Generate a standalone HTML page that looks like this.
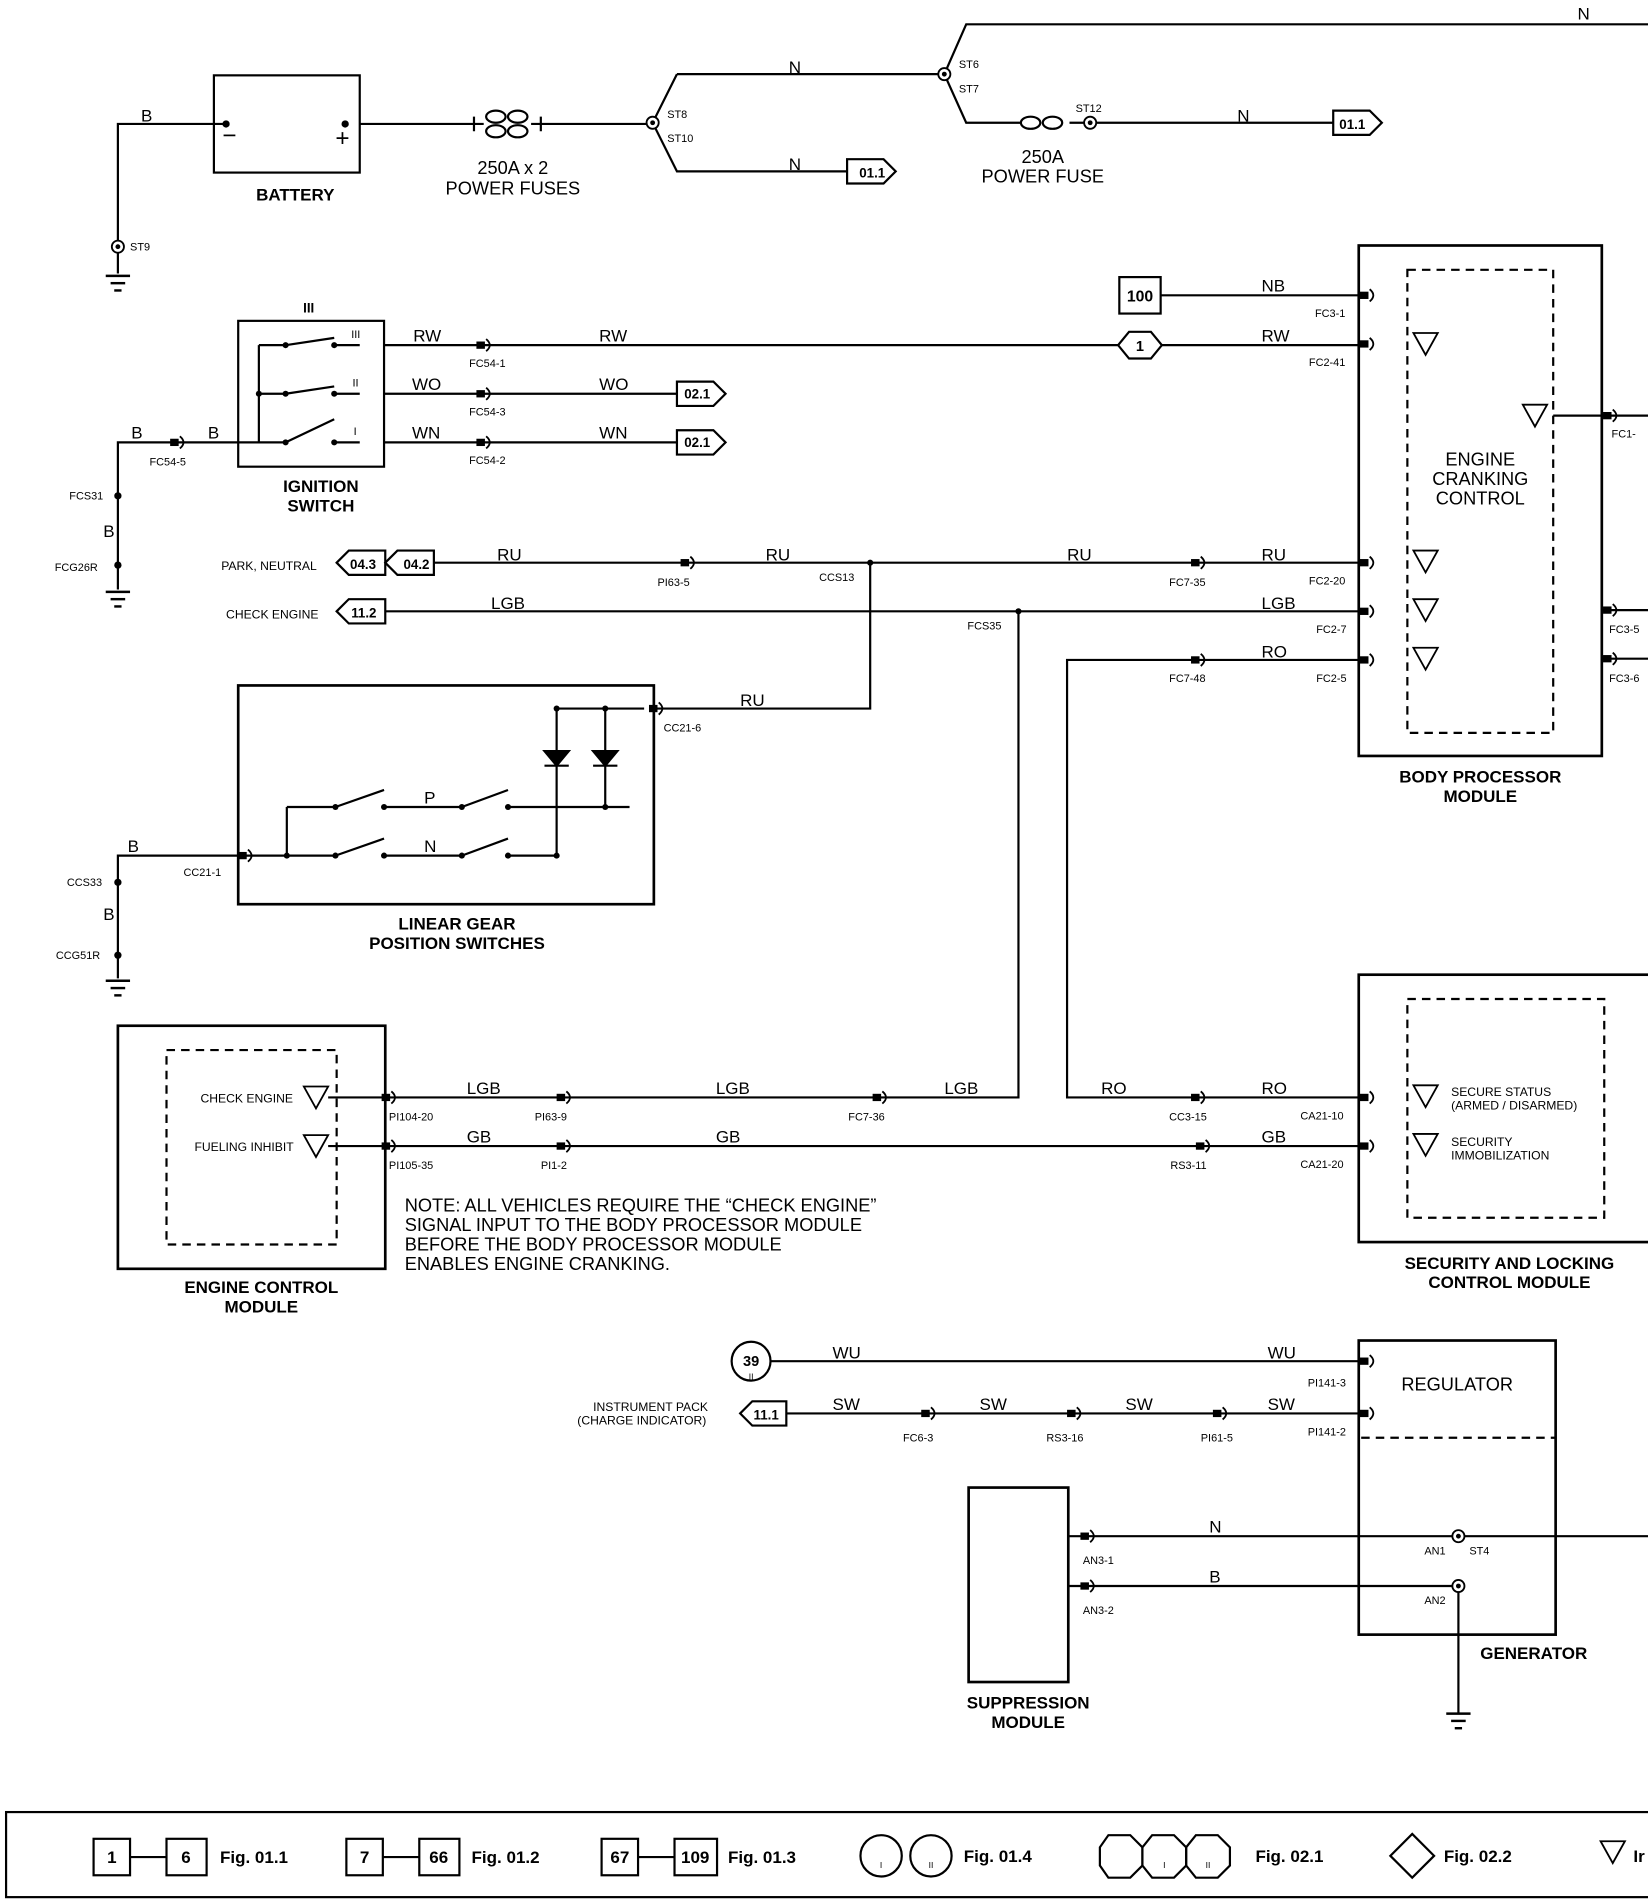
<!DOCTYPE html>
<html><head><meta charset="utf-8"><style>
html,body{margin:0;padding:0;background:#fff;}
svg{display:block;}
text{font-family:"Liberation Sans",sans-serif;fill:#000;}
.w{font-size:14px;}
.c{font-size:9px;}
.b{font-size:14px;font-weight:bold;}
.n{font-size:15px;}
</style></head><body>
<svg width="1648" height="1902" viewBox="0 0 1356 1565" xmlns="http://www.w3.org/2000/svg">
<defs>
<g id="cn"><rect x="-8" y="-3" width="7" height="6" fill="#000"/><path d="M0,-5 Q6,0 0,5" fill="none" stroke="#000" stroke-width="1.5"/></g>
<g id="sp"><circle r="5" fill="#fff" stroke="#000" stroke-width="1.5"/><circle r="2" fill="#000"/></g>
<g id="gnd"><line x1="-10" y1="0" x2="10" y2="0" stroke="#000" stroke-width="2"/><line x1="-6" y1="6" x2="6" y2="6" stroke="#000" stroke-width="2"/><line x1="-3" y1="12" x2="3" y2="12" stroke="#000" stroke-width="2"/></g>
<g id="tri"><path d="M-10,-9 L10,-9 L0,9 Z" fill="#fff" stroke="#000" stroke-width="1.5"/></g>
</defs>
<g fill="none" stroke="#000" stroke-width="1.8">
<polyline points="1356,20 795,20 777,61 795,101 840,101"/>
<line x1="880" y1="101" x2="1097" y2="101"/>
<polyline points="557,61 537,101 557,141 697,141"/>
<line x1="557" y1="61" x2="777" y2="61"/>
<line x1="296" y1="102" x2="390" y2="102"/>
<line x1="445" y1="102" x2="537" y2="102"/>
<rect x="176" y="62" width="120" height="80"/>
<polyline points="186,102 97,102 97,225"/>
<path d="M390,96 v12 M445,96 v12 M390,102 h8 M437,102 h8"/>
<ellipse cx="408" cy="96" rx="8" ry="5"/><ellipse cx="426" cy="96" rx="8" ry="5"/>
<ellipse cx="408" cy="108" rx="8" ry="5"/><ellipse cx="426" cy="108" rx="8" ry="5"/>
<ellipse cx="848" cy="101" rx="8" ry="5"/><ellipse cx="866" cy="101" rx="8" ry="5"/>
<path d="M697,131 h30 l10,10 l-10,10 h-30 z"/>
<path d="M1097,91 h30 l10,10 l-10,10 h-30 z"/>
<rect x="196" y="264" width="120" height="120"/>
<line x1="213" y1="284" x2="213" y2="364"/>
<polyline points="213,284 235,284"/><line x1="235" y1="284" x2="275" y2="278"/><line x1="275" y1="284" x2="296" y2="284"/>
<polyline points="213,324 235,324"/><line x1="235" y1="324" x2="275" y2="318"/><line x1="275" y1="324" x2="296" y2="324"/>
<line x1="196" y1="364" x2="235" y2="364"/><line x1="235" y1="364" x2="275" y2="345"/><line x1="275" y1="364" x2="296" y2="364"/>
<line x1="316" y1="284" x2="920" y2="284"/><line x1="956" y1="284" x2="1120" y2="284"/>
<line x1="316" y1="324" x2="557" y2="324"/><line x1="316" y1="364" x2="557" y2="364"/>
<path d="M557,314 h30 l10,10 l-10,10 h-30 z"/><path d="M557,354 h30 l10,10 l-10,10 h-30 z"/>
<polyline points="196,364 97,364 97,485"/>
<polygon points="929,273 947,273 956,284 947,295 929,295 920,284"/>
<rect x="921" y="228" width="34" height="30"/>
<line x1="955" y1="243" x2="1120" y2="243"/>
<rect x="1118" y="202" width="200" height="420" stroke-width="2.2"/>
<rect x="1158" y="222" width="120" height="381" stroke-dasharray="7,5"/>
<line x1="1278" y1="342" x2="1356" y2="342"/><line x1="1318" y1="502" x2="1356" y2="502"/><line x1="1318" y1="542" x2="1356" y2="542"/>
<path d="M277,463 l10,-10 h30 v20 h-30 z"/><path d="M317,463 l10,-10 h30 v20 h-30 z"/>
<line x1="357" y1="463" x2="1120" y2="463"/>
<path d="M277,503 l10,-10 h30 v20 h-30 z"/>
<line x1="317" y1="503" x2="1120" y2="503"/>
<polyline points="1120,543 878,543 878,903 1120,903"/>
<polyline points="716,463 716,583 540,583"/>
<polyline points="838,503 838,903 317,903"/>
<line x1="317" y1="943" x2="1120" y2="943"/>
<rect x="196" y="564" width="342" height="180" stroke-width="2.2"/>
<polyline points="530,583 458,583 458,703"/><polyline points="498,583 498,663"/>
<path d="M448,618 h20 l-10,12 z M488,618 h20 l-10,12 z" fill="#000"/>
<line x1="448" y1="630" x2="468" y2="630"/><line x1="488" y1="630" x2="508" y2="630"/>
<line x1="196" y1="704" x2="276" y2="704"/><line x1="236" y1="664" x2="236" y2="704"/>
<line x1="236" y1="664" x2="276" y2="664"/>
<line x1="276" y1="664" x2="316" y2="650"/><line x1="316" y1="664" x2="380" y2="664"/>
<line x1="380" y1="664" x2="418" y2="650"/><line x1="418" y1="664" x2="518" y2="664"/>
<line x1="276" y1="704" x2="316" y2="690"/><line x1="316" y1="704" x2="380" y2="704"/>
<line x1="380" y1="704" x2="418" y2="690"/><line x1="418" y1="704" x2="458" y2="704"/>
<polyline points="196,704 97,704 97,805"/>
<rect x="97" y="844" width="220" height="200" stroke-width="2.2"/>
<rect x="137" y="864" width="140" height="160" stroke-dasharray="7,5"/>
<line x1="270" y1="903" x2="317" y2="903"/><line x1="270" y1="943" x2="317" y2="943"/>
<rect x="1118" y="802" width="250" height="220" stroke-width="2.2"/>
<rect x="1158" y="822" width="162" height="180" stroke-dasharray="7,5"/>
<rect x="1118" y="1103" width="162" height="242" stroke-width="2.2"/>
<line x1="1120" y1="1183" x2="1280" y2="1183" stroke-dasharray="7,5"/>
<circle cx="618" cy="1120" r="16"/>
<line x1="634" y1="1120" x2="1120" y2="1120"/>
<path d="M609,1163 l10,-10 h28 v20 h-28 z"/>
<line x1="647" y1="1163" x2="1120" y2="1163"/>
<rect x="797" y="1224" width="82" height="160" stroke-width="2.2"/>
<line x1="879" y1="1264" x2="1356" y2="1264"/>
<polyline points="879,1305 1200,1305 1200,1410"/>
<rect x="5" y="1491" width="1360" height="70"/>
<rect x="77" y="1513" width="30" height="30"/><line x1="107" y1="1528" x2="137" y2="1528"/><rect x="137" y="1513" width="33" height="30"/>
<rect x="285" y="1513" width="30" height="30"/><line x1="315" y1="1528" x2="345" y2="1528"/><rect x="345" y="1513" width="33" height="30"/>
<rect x="495" y="1513" width="30" height="30"/><line x1="525" y1="1528" x2="555" y2="1528"/><rect x="555" y="1513" width="35" height="30"/>
<circle cx="725" cy="1527" r="17"/><circle cx="766" cy="1527" r="17"/>
<polygon points="912,1510 930,1510 940,1520 940,1535 930,1545 912,1545 905,1535 905,1520"/>
<polygon points="948,1510 966,1510 976,1520 976,1535 966,1545 948,1545 940,1535 940,1520"/>
<polygon points="984,1510 1002,1510 1012,1520 1012,1535 1002,1545 984,1545 976,1535 976,1520"/>
<polygon points="1162,1509 1180,1527 1162,1545 1144,1527"/>
</g>
<g>
<use href="#sp" x="777" y="61"/><use href="#sp" x="537" y="101"/><use href="#sp" x="897" y="101"/><use href="#sp" x="97" y="203"/>
<use href="#sp" x="1200" y="1264"/><use href="#sp" x="1200" y="1305"/>
<use href="#gnd" x="97" y="227"/><use href="#gnd" x="97" y="487"/><use href="#gnd" x="97" y="807"/><use href="#gnd" x="1200" y="1410"/>
<use href="#cn" x="400" y="284"/><use href="#cn" x="400" y="324"/><use href="#cn" x="400" y="364"/><use href="#cn" x="148" y="364"/>
<use href="#cn" x="1127" y="243"/><use href="#cn" x="1127" y="283"/><use href="#cn" x="1127" y="463"/><use href="#cn" x="1127" y="503"/><use href="#cn" x="1127" y="543"/>
<use href="#cn" x="1327" y="342"/><use href="#cn" x="1327" y="502"/><use href="#cn" x="1327" y="542"/>
<use href="#cn" x="568" y="463"/><use href="#cn" x="988" y="463"/><use href="#cn" x="988" y="543"/>
<use href="#cn" x="542" y="583"/><use href="#cn" x="204" y="704"/>
<use href="#cn" x="322" y="903"/><use href="#cn" x="322" y="943"/><use href="#cn" x="466" y="903"/><use href="#cn" x="466" y="943"/>
<use href="#cn" x="726" y="903"/><use href="#cn" x="988" y="903"/><use href="#cn" x="992" y="943"/>
<use href="#cn" x="1127" y="903"/><use href="#cn" x="1127" y="943"/>
<use href="#cn" x="1127" y="1120"/><use href="#cn" x="1127" y="1163"/>
<use href="#cn" x="766" y="1163"/><use href="#cn" x="886" y="1163"/><use href="#cn" x="1006" y="1163"/>
<use href="#cn" x="897" y="1264"/><use href="#cn" x="897" y="1305"/>
<use href="#tri" x="1173" y="283"/><use href="#tri" x="1263" y="342"/><use href="#tri" x="1173" y="462"/><use href="#tri" x="1173" y="502"/><use href="#tri" x="1173" y="542"/>
<use href="#tri" x="260" y="903"/><use href="#tri" x="260" y="943"/><use href="#tri" x="1173" y="902"/><use href="#tri" x="1173" y="942"/>
<use href="#tri" x="1327" y="1524"/>
<circle cx="716" cy="463" r="2.5"/><circle cx="838" cy="503" r="2.5"/>
<circle cx="97" cy="408" r="3"/><circle cx="97" cy="465" r="3"/><circle cx="97" cy="726" r="3"/><circle cx="97" cy="786" r="3"/>
<circle cx="186" cy="102" r="3"/><circle cx="284" cy="102" r="3"/>
<circle cx="213" cy="324" r="2.5"/><circle cx="235" cy="284" r="2.5"/><circle cx="275" cy="284" r="2.5"/><circle cx="235" cy="324" r="2.5"/><circle cx="275" cy="324" r="2.5"/><circle cx="235" cy="364" r="2.5"/><circle cx="275" cy="364" r="2.5"/>
<circle cx="236" cy="704" r="2.5"/><circle cx="276" cy="664" r="2.5"/><circle cx="316" cy="664" r="2.5"/><circle cx="380" cy="664" r="2.5"/><circle cx="418" cy="664" r="2.5"/><circle cx="276" cy="704" r="2.5"/><circle cx="316" cy="704" r="2.5"/><circle cx="380" cy="704" r="2.5"/><circle cx="418" cy="704" r="2.5"/><circle cx="458" cy="583" r="2.5"/><circle cx="498" cy="583" r="2.5"/><circle cx="458" cy="704" r="2.5"/><circle cx="498" cy="664" r="2.5"/>
</g>
<g>
<text class="w" x="1298" y="16">N</text><text class="w" x="649" y="60">N</text><text class="w" x="649" y="140">N</text><text class="w" x="1018" y="100">N</text>
<text class="w" x="116" y="100">B</text>
<text class="c" x="789" y="56">ST6</text><text class="c" x="789" y="76">ST7</text><text class="c" x="549" y="97">ST8</text><text class="c" x="549" y="117">ST10</text><text class="c" x="885" y="92">ST12</text><text class="c" x="107" y="206">ST9</text>
<text class="b" x="707" y="146" style="font-size:11px">01.1</text><text class="b" x="1102" y="106" style="font-size:11px">01.1</text>
<text class="n" x="422" y="143" text-anchor="middle">250A x 2</text><text class="n" x="422" y="160" text-anchor="middle">POWER FUSES</text>
<text class="n" x="858" y="134" text-anchor="middle">250A</text><text class="n" x="858" y="150" text-anchor="middle">POWER FUSE</text>
<text class="b" x="243" y="165" text-anchor="middle">BATTERY</text>
<text x="183" y="118" style="font-size:20px">−</text><text x="276" y="120" style="font-size:20px">+</text>
<text class="b" x="254" y="257" text-anchor="middle" style="font-size:11px">III</text>
<text class="c" x="289" y="278">III</text><text class="c" x="290" y="318">II</text><text class="c" x="291" y="358">I</text>
<text class="w" x="340" y="281">RW</text><text class="w" x="493" y="281">RW</text><text class="w" x="1038" y="281">RW</text>
<text class="w" x="339" y="321">WO</text><text class="w" x="493" y="321">WO</text>
<text class="w" x="339" y="361">WN</text><text class="w" x="493" y="361">WN</text>
<text class="w" x="108" y="361">B</text><text class="w" x="171" y="361">B</text>
<text class="c" x="386" y="302">FC54-1</text><text class="c" x="386" y="342">FC54-3</text><text class="c" x="386" y="382">FC54-2</text><text class="c" x="123" y="383">FC54-5</text>
<text class="c" x="57" y="411">FCS31</text><text class="w" x="85" y="442">B</text><text class="c" x="45" y="470">FCG26R</text>
<text class="b" x="264" y="405" text-anchor="middle">IGNITION</text><text class="b" x="264" y="421" text-anchor="middle">SWITCH</text>
<text class="b" x="563" y="328" style="font-size:11px">02.1</text><text class="b" x="563" y="368" style="font-size:11px">02.1</text>
<text class="b" x="938" y="289" text-anchor="middle" style="font-size:12px">1</text>
<text class="b" x="938" y="248" text-anchor="middle" style="font-size:13px">100</text>
<text class="w" x="1038" y="240">NB</text>
<text class="c" x="1082" y="261">FC3-1</text><text class="c" x="1077" y="301">FC2-41</text><text class="c" x="1077" y="481">FC2-20</text><text class="c" x="1083" y="521">FC2-7</text><text class="c" x="1083" y="561">FC2-5</text>
<text class="c" x="1326" y="360">FC1-</text><text class="c" x="1324" y="521">FC3-5</text><text class="c" x="1324" y="561">FC3-6</text>
<text class="n" x="1218" y="383" text-anchor="middle">ENGINE</text><text class="n" x="1218" y="399" text-anchor="middle">CRANKING</text><text class="n" x="1218" y="415" text-anchor="middle">CONTROL</text>
<text class="b" x="1218" y="644" text-anchor="middle">BODY PROCESSOR</text><text class="b" x="1218" y="660" text-anchor="middle">MODULE</text>
<text class="c" x="182" y="469" style="font-size:10px">PARK, NEUTRAL</text><text class="c" x="186" y="509" style="font-size:10px">CHECK ENGINE</text>
<text class="b" x="288" y="468" style="font-size:11px">04.3</text><text class="b" x="332" y="468" style="font-size:11px">04.2</text><text class="b" x="289" y="508" style="font-size:11px">11.2</text>
<text class="w" x="409" y="461">RU</text><text class="w" x="630" y="461">RU</text><text class="w" x="878" y="461">RU</text><text class="w" x="1038" y="461">RU</text>
<text class="c" x="541" y="482">PI63-5</text><text class="c" x="674" y="478">CCS13</text><text class="c" x="962" y="482">FC7-35</text>
<text class="w" x="404" y="501">LGB</text><text class="w" x="1038" y="501">LGB</text><text class="c" x="796" y="518">FCS35</text>
<text class="w" x="1038" y="541">RO</text><text class="c" x="962" y="561">FC7-48</text>
<text class="w" x="609" y="581">RU</text><text class="c" x="546" y="602">CC21-6</text>
<text class="w" x="349" y="661">P</text><text class="w" x="349" y="701">N</text>
<text class="w" x="105" y="701">B</text><text class="c" x="151" y="721">CC21-1</text>
<text class="c" x="55" y="729">CCS33</text><text class="w" x="85" y="757">B</text><text class="c" x="46" y="789">CCG51R</text>
<text class="b" x="376" y="765" text-anchor="middle">LINEAR GEAR</text><text class="b" x="376" y="781" text-anchor="middle">POSITION SWITCHES</text>
<text class="c" x="165" y="907" style="font-size:10px">CHECK ENGINE</text><text class="c" x="160" y="947" style="font-size:10px">FUELING INHIBIT</text>
<text class="b" x="215" y="1064" text-anchor="middle">ENGINE CONTROL</text><text class="b" x="215" y="1080" text-anchor="middle">MODULE</text>
<text class="w" x="384" y="900">LGB</text><text class="w" x="589" y="900">LGB</text><text class="w" x="777" y="900">LGB</text>
<text class="w" x="384" y="940">GB</text><text class="w" x="589" y="940">GB</text><text class="w" x="1038" y="940">GB</text>
<text class="w" x="906" y="900">RO</text><text class="w" x="1038" y="900">RO</text>
<text class="c" x="320" y="922">PI104-20</text><text class="c" x="440" y="922">PI63-9</text><text class="c" x="698" y="922">FC7-36</text><text class="c" x="962" y="922">CC3-15</text><text class="c" x="1070" y="921">CA21-10</text>
<text class="c" x="320" y="962">PI105-35</text><text class="c" x="445" y="962">PI1-2</text><text class="c" x="963" y="962">RS3-11</text><text class="c" x="1070" y="961">CA21-20</text>
<text class="n" x="333" y="997">NOTE: ALL VEHICLES REQUIRE THE “CHECK ENGINE”</text>
<text class="n" x="333" y="1013">SIGNAL INPUT TO THE BODY PROCESSOR MODULE</text>
<text class="n" x="333" y="1029">BEFORE THE BODY PROCESSOR MODULE</text>
<text class="n" x="333" y="1045">ENABLES ENGINE CRANKING.</text>
<text class="c" x="1194" y="902" style="font-size:10px">SECURE STATUS</text><text class="c" x="1194" y="913" style="font-size:10px">(ARMED / DISARMED)</text>
<text class="c" x="1194" y="943" style="font-size:10px">SECURITY</text><text class="c" x="1194" y="954" style="font-size:10px">IMMOBILIZATION</text>
<text class="b" x="1242" y="1044" text-anchor="middle">SECURITY AND LOCKING</text><text class="b" x="1242" y="1060" text-anchor="middle">CONTROL MODULE</text>
<text class="b" x="618" y="1124" text-anchor="middle" style="font-size:12px">39</text><text class="c" x="618" y="1135" text-anchor="middle" style="font-size:7px">II</text>
<text class="w" x="685" y="1118">WU</text><text class="w" x="1043" y="1118">WU</text>
<text class="c" x="488" y="1161" style="font-size:10px">INSTRUMENT PACK</text><text class="c" x="475" y="1172" style="font-size:10px">(CHARGE INDICATOR)</text>
<text class="b" x="620" y="1168" style="font-size:11px">11.1</text>
<text class="w" x="685" y="1160">SW</text><text class="w" x="806" y="1160">SW</text><text class="w" x="926" y="1160">SW</text><text class="w" x="1043" y="1160">SW</text>
<text class="c" x="743" y="1186">FC6-3</text><text class="c" x="861" y="1186">RS3-16</text><text class="c" x="988" y="1186">PI61-5</text>
<text class="c" x="1076" y="1141">PI141-3</text><text class="c" x="1076" y="1181">PI141-2</text>
<text class="n" x="1199" y="1144" text-anchor="middle">REGULATOR</text>
<text class="w" x="995" y="1261">N</text><text class="w" x="995" y="1302">B</text>
<text class="c" x="891" y="1287">AN3-1</text><text class="c" x="891" y="1328">AN3-2</text>
<text class="c" x="1172" y="1279">AN1</text><text class="c" x="1209" y="1279">ST4</text><text class="c" x="1172" y="1320">AN2</text>
<text class="b" x="1262" y="1365" text-anchor="middle">GENERATOR</text>
<text class="b" x="846" y="1406" text-anchor="middle">SUPPRESSION</text><text class="b" x="846" y="1422" text-anchor="middle">MODULE</text>
<text class="b" x="92" y="1533" text-anchor="middle">1</text><text class="b" x="153" y="1533" text-anchor="middle">6</text><text class="b" x="181" y="1533">Fig. 01.1</text>
<text class="b" x="300" y="1533" text-anchor="middle">7</text><text class="b" x="361" y="1533" text-anchor="middle">66</text><text class="b" x="388" y="1533">Fig. 01.2</text>
<text class="b" x="510" y="1533" text-anchor="middle">67</text><text class="b" x="572" y="1533" text-anchor="middle">109</text><text class="b" x="599" y="1533">Fig. 01.3</text>
<text class="c" x="725" y="1537" text-anchor="middle" style="font-size:7px">I</text><text class="c" x="766" y="1537" text-anchor="middle" style="font-size:7px">II</text><text class="b" x="793" y="1532">Fig. 01.4</text>
<text class="c" x="958" y="1537" text-anchor="middle" style="font-size:7px">I</text><text class="c" x="994" y="1537" text-anchor="middle" style="font-size:7px">II</text><text class="b" x="1033" y="1532">Fig. 02.1</text>
<text class="b" x="1188" y="1532">Fig. 02.2</text>
<text class="b" x="1344" y="1532">Ir</text>
</g>
</svg>
</body></html>
